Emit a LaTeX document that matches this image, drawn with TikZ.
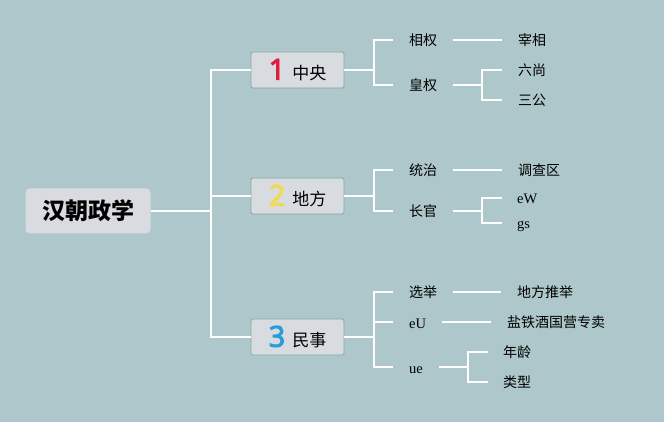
\documentclass[tikz,border=0pt]{standalone}
\usepackage{fontspec}
\newfontfamily\cjk{Noto Sans CJK SC}
\newfontfamily\numfont{Noto Sans}[FakeBold=3]
\newfontfamily\latinfont{Liberation Serif}
\usetikzlibrary{positioning}
\definecolor{hanbg}{HTML}{AEC7CA}
\definecolor{hanroot}{HTML}{D9DBE0}
\definecolor{hanbox}{HTML}{D8DBDF}
\definecolor{hanboxL}{HTML}{80A8A2}
\definecolor{numred}{HTML}{E31B3C}
\definecolor{numyellow}{HTML}{F4DA4A}
\definecolor{numblue}{HTML}{2B9BDB}
\newcommand{\topicnum}[2]{{\numfont\fontsize{29}{29}\selectfont\color{#1}#2}\hspace{7pt}}

\begin{document}
\begin{tikzpicture}[
      x=1pt, y=-1pt,
      root/.style={fill=hanroot, rounded corners=4pt, minimum width=125pt,
                   minimum height=45pt, font=\cjk\bfseries\fontsize{23}{23}\selectfont},
      topic/.style={draw=hanboxL, line width=0.9pt, fill=hanbox, rounded corners=1.5pt,
                    minimum width=93pt, minimum height=36pt, inner sep=0pt,
                    font=\cjk\fontsize{17}{17}\selectfont},
      leaf/.style={anchor=west, inner sep=0pt, font=\cjk\fontsize{14}{14}\selectfont},
      latin/.style={anchor=west, inner sep=0pt, text height=12pt, text depth=0pt,
                    font=\latinfont\fontsize{14.5}{14.5}\selectfont},
      conn/.style={draw=white, line width=1.6pt}
    ]
    \fill[hanbg] (0,0) rectangle (664,422);
    % ------------- root and topics -------------
    \node[root] (root) at (88,211) {汉朝政学};
    \node[topic] (t1) at (297.5,70) {\topicnum{numred}{1}中央};
    \node[topic] (t2) at (297.5,196) {\topicnum{numyellow}{2}地方};
    \node[topic] (t3) at (297.5,337) {\topicnum{numblue}{3}民事};
    \coordinate (j0) at (211,211);
    \draw[conn] (root.east) -- (j0);
    \draw[conn] (j0) |- (t1.west);
    \draw[conn] (j0) |- (t2.west);
    \draw[conn] (j0) |- (t3.west);
    % ------------- 中央 -------------
    \node[leaf] (xq) at (409,40) {相权};
    \node[leaf] (hq) at (409,85) {皇权};
    \node[leaf] (zx) at (518,40) {宰相};
    \node[leaf] (ls) at (518,70) {六尚};
    \node[leaf] (sg) at (518,100) {三公};
    \coordinate (j1) at (374,70);
    \draw[conn] (t1.east) -- (j1);
    \draw[conn] (j1) |- ([xshift=-16pt]xq.west);
    \draw[conn] (j1) |- ([xshift=-16pt]hq.west);
    \draw[conn] ([xshift=16pt]xq.east) -- ([xshift=-16pt]zx.west);
    \coordinate (f1) at (482,85);
    \draw[conn] ([xshift=16pt]hq.east) -- (f1);
    \draw[conn] (f1) |- ([xshift=-16pt]ls.west);
    \draw[conn] (f1) |- ([xshift=-16pt]sg.west);
    % ------------- 地方 -------------
    \node[leaf] (tz) at (409,170) {统治};
    \node[leaf] (zg) at (409,211) {长官};
    \node[leaf] (dcq) at (518,170) {调查区};
    \node[latin] (ew) at (517,198) {eW};
    \node[latin] (gs) at (517,223) {gs};
    \coordinate (j2) at (374,196);
    \draw[conn] (t2.east) -- (j2);
    \draw[conn] (j2) |- ([xshift=-16pt]tz.west);
    \draw[conn] (j2) |- ([xshift=-16pt]zg.west);
    \draw[conn] ([xshift=16pt]tz.east) -- ([xshift=-16pt]dcq.west);
    \coordinate (f2) at (482,211);
    \draw[conn] ([xshift=16pt]zg.east) -- (f2);
    \draw[conn] (f2) |- ([xshift=-15pt]ew.west);
    \draw[conn] (f2) |- ([xshift=-15pt]gs.west);
    % ------------- 民事 -------------
    \node[leaf] (xj) at (409,292) {选举};
    \node[latin] (eu) at (409,322) {eU};
    \node[latin] (ue) at (409,367) {ue};
    \node[leaf] (dftj) at (517,292) {地方推举};
    \node[leaf] (ytj) at (507,322) {盐铁酒国营专卖};
    \node[leaf] (nl) at (503,352) {年龄};
    \node[leaf] (lx) at (503,382) {类型};
    \coordinate (j3) at (374,337);
    \draw[conn] (t3.east) -- (j3);
    \draw[conn] (j3) |- ([xshift=-16pt]xj.west);
    \draw[conn] (j3) |- ([xshift=-16pt]eu.west);
    \draw[conn] (j3) |- ([xshift=-16pt]ue.west);
    \draw[conn] ([xshift=16pt]xj.east) -- ([xshift=-16pt]dftj.west);
    \draw[conn] ([xshift=16pt]eu.east) -- ([xshift=-16pt]ytj.west);
    \coordinate (f3) at (468,367);
    \draw[conn] ([xshift=16pt]ue.east) -- (f3);
    \draw[conn] (f3) |- ([xshift=-15pt]nl.west);
    \draw[conn] (f3) |- ([xshift=-15pt]lx.west);
  \end{tikzpicture}
\end{document}
